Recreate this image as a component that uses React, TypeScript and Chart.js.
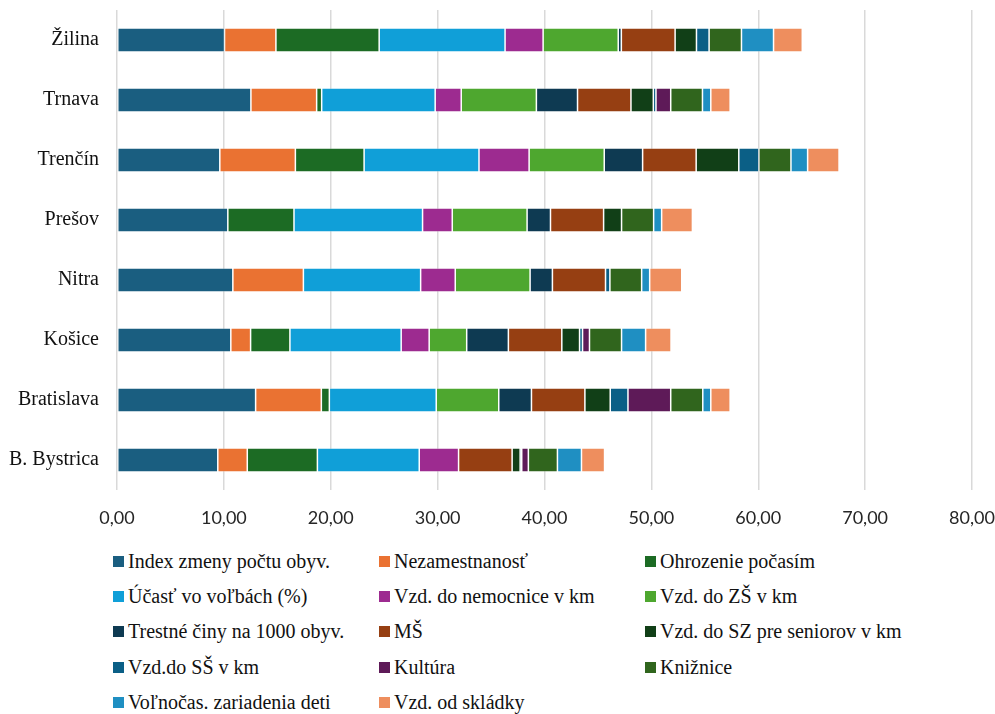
import React, { useEffect, useRef } from "react";
import { Chart, registerables } from "chart.js";

Chart.register(...registerables);

// Regions, top to bottom
const regions = ["Žilina", "Trnava", "Trenčín", "Prešov", "Nitra", "Košice", "Bratislava", "B. Bystrica"];

// Indicator values per region (same order as regions)
const indexZmeny = [10.06, 12.53, 9.62, 10.37, 10.84, 10.65, 12.97, 9.43];
const nezamestnanost = [4.81, 6.15, 7.07, 0, 6.6, 1.85, 6.15, 2.76];
const ohrozenie = [9.66, 0.47, 6.43, 6.19, 0, 3.68, 0.75, 6.56];
const ucast = [11.78, 10.62, 10.75, 12.03, 10.97, 10.41, 10.0, 9.53];
const nemocnica = [3.56, 2.44, 4.69, 2.78, 3.24, 2.62, 0, 3.68];
const zs = [7.03, 7.03, 7.03, 7.0, 7.0, 3.51, 5.85, 0];
const trestne = [0.29, 3.85, 3.59, 2.19, 2.09, 3.9, 3.06, 0];
const ms = [5.03, 5.0, 5.01, 4.97, 4.97, 5.0, 5.0, 5.01];
const sz = [2.0, 2.09, 3.99, 1.68, 0, 1.66, 2.37, 0.75];
const ss = [1.18, 0.25, 1.88, 0, 0.41, 0.28, 1.66, 0.15];
const kultura = [0, 1.38, 0, 0, 0, 0.65, 4.0, 0.62];
const kniznice = [3.03, 2.97, 3.0, 3.0, 2.97, 3.0, 3.0, 2.72];
const volnocas = [3.0, 0.78, 1.56, 0.75, 0.75, 2.25, 0.75, 2.25];
const skladka = [2.69, 1.81, 2.94, 2.88, 3.0, 2.38, 1.81, 2.16];

const xTicksMax = 80;
const xTickStep = 10;

const seriesNames = [
  "Index zmeny počtu obyv.",
  "Nezamestnanosť",
  "Ohrozenie počasím",
  "Účasť vo voľbách (%)",
  "Vzd. do nemocnice v km",
  "Vzd. do ZŠ v km",
  "Trestné činy na 1000 obyv.",
  "MŠ",
  "Vzd. do SZ pre seniorov v km",
  "Vzd.do SŠ v km",
  "Kultúra",
  "Knižnice",
  "Voľnočas. zariadenia deti",
  "Vzd. od skládky",
];

const seriesValues = [
  indexZmeny, nezamestnanost, ohrozenie, ucast, nemocnica, zs, trestne,
  ms, sz, ss, kultura, kniznice, volnocas, skladka,
];

const seriesColors = [
  "#1a5e80", "#ea7232", "#1c6b24", "#109fd8", "#9d2b90", "#4ea72f", "#0e3a52",
  "#963f12", "#113f17", "#0b5f86", "#5e1a58", "#30651d", "#1f8fc2", "#ee8e5e",
];

const serif = "'Liberation Serif', 'Times New Roman', serif";

export default function App() {
  const canvasRef = useRef<HTMLCanvasElement | null>(null);

  useEffect(() => {
    if (!canvasRef.current) return;
    const chart = new Chart(canvasRef.current, {
      type: "bar",
      data: {
        labels: regions,
        datasets: seriesNames.map((name, i) => ({
          label: name,
          data: seriesValues[i],
          backgroundColor: seriesColors[i],
          borderColor: "rgba(255,255,255,0.3)",
          borderWidth: 0.75,
          borderSkipped: false,
          barPercentage: 0.4,
          categoryPercentage: 1,
        })),
      },
      options: {
        indexAxis: "y",
        responsive: false,
        animation: false,
        layout: { padding: { top: 10, right: 23, bottom: 3, left: 0 } },
        plugins: {
          legend: { display: false },
          tooltip: { enabled: false },
        },
        scales: {
          x: {
            stacked: true,
            min: 0,
            max: xTicksMax,
            afterFit: (scale: any) => {
              // fixed axis band; edge label overflow is covered by layout padding
              scale.height = 37;
              scale.paddingLeft = 0;
              scale.paddingRight = 0;
            },
            ticks: {
              stepSize: xTickStep,
              padding: 17,
              color: "#262626",
              font: { family: "Lato, 'Open Sans', sans-serif", size: 18 },
              callback: (v: any) => Number(v).toFixed(2).replace(".", ","),
            },
            grid: { color: "#d9d9d9", lineWidth: 1.5, drawTicks: false },
            border: { display: false },
          },
          y: {
            stacked: true,
            afterFit: (scale: any) => {
              scale.width = 117;
              scale.paddingTop = 0;
              scale.paddingBottom = 0;
            },
            ticks: {
              padding: 18,
              color: "#111",
              font: { family: serif, size: 20 },
            },
            grid: { display: false, drawTicks: false },
            border: { display: false },
          },
        },
      },
    });
    return () => chart.destroy();
  }, []);

  return (
    <div style={{ position: "absolute", left: 0, top: 0, width: 995, height: 714, background: "#fff", overflow: "hidden" }}>
      <canvas ref={canvasRef} width={995} height={530} style={{ display: "block" }} />
      <div
        style={{
          position: "absolute",
          left: 113,
          top: 544,
          display: "grid",
          gridTemplateColumns: "266px 266px auto",
          gridAutoRows: "35.2px",
          fontFamily: serif,
          fontSize: 20,
          color: "#111",
        }}
      >
        {seriesNames.map((name, i) => (
          <div key={name} style={{ display: "flex", alignItems: "center", whiteSpace: "nowrap", lineHeight: "35.2px" }}>
            <span style={{ width: 11, height: 11, background: seriesColors[i], marginRight: 4, flex: "none" }} />
            <span>{name}</span>
          </div>
        ))}
      </div>
    </div>
  );
}
